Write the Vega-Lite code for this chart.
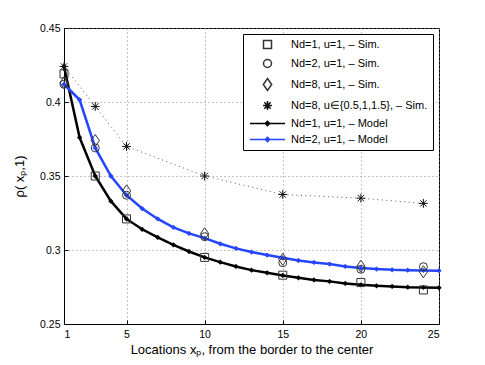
{
  "$schema": "https://vega.github.io/schema/vega-lite/v6.json",
  "autosize": "none",
  "width": 375,
  "height": 296,
  "padding": {"left": 64, "top": 28, "right": 46, "bottom": 41},
  "background": "white",
  "config": {
    "view": {"stroke": "black", "strokeWidth": 1},
    "font": "Liberation Sans",
    "axis": {
      "labelFont": "Liberation Sans",
      "labelFontSize": 10.5,
      "labelColor": "black",
      "titleFont": "Liberation Sans",
      "titleFontWeight": "normal",
      "titleColor": "black",
      "domainColor": "black",
      "tickColor": "black",
      "tickSize": -4,
      "grid": true,
      "gridColor": "#888",
      "gridDash": [1, 3],
      "gridWidth": 1
    }
  },
  "datasets": {
    "sim": [
      {"series": "Nd=1, u=1, – Sim.", "x": 1, "y": 0.419},
      {"series": "Nd=1, u=1, – Sim.", "x": 3, "y": 0.35},
      {"series": "Nd=1, u=1, – Sim.", "x": 5, "y": 0.321},
      {"series": "Nd=1, u=1, – Sim.", "x": 10, "y": 0.295},
      {"series": "Nd=1, u=1, – Sim.", "x": 15, "y": 0.283},
      {"series": "Nd=1, u=1, – Sim.", "x": 20, "y": 0.278},
      {"series": "Nd=1, u=1, – Sim.", "x": 24, "y": 0.273},
      {"series": "Nd=2, u=1, – Sim.", "x": 1, "y": 0.412},
      {"series": "Nd=2, u=1, – Sim.", "x": 3, "y": 0.369},
      {"series": "Nd=2, u=1, – Sim.", "x": 5, "y": 0.337},
      {"series": "Nd=2, u=1, – Sim.", "x": 10, "y": 0.309},
      {"series": "Nd=2, u=1, – Sim.", "x": 15, "y": 0.2914},
      {"series": "Nd=2, u=1, – Sim.", "x": 20, "y": 0.287},
      {"series": "Nd=2, u=1, – Sim.", "x": 24, "y": 0.2887},
      {"series": "Nd=8, u=1, – Sim.", "x": 1, "y": 0.413},
      {"series": "Nd=8, u=1, – Sim.", "x": 3, "y": 0.374},
      {"series": "Nd=8, u=1, – Sim.", "x": 5, "y": 0.34},
      {"series": "Nd=8, u=1, – Sim.", "x": 10, "y": 0.311},
      {"series": "Nd=8, u=1, – Sim.", "x": 15, "y": 0.2937},
      {"series": "Nd=8, u=1, – Sim.", "x": 20, "y": 0.289},
      {"series": "Nd=8, u=1, – Sim.", "x": 24, "y": 0.2853},
      {"series": "Nd=8, u∈{0.5,1,1.5}, – Sim.", "x": 1, "y": 0.424},
      {"series": "Nd=8, u∈{0.5,1,1.5}, – Sim.", "x": 3, "y": 0.397},
      {"series": "Nd=8, u∈{0.5,1,1.5}, – Sim.", "x": 5, "y": 0.37},
      {"series": "Nd=8, u∈{0.5,1,1.5}, – Sim.", "x": 10, "y": 0.35},
      {"series": "Nd=8, u∈{0.5,1,1.5}, – Sim.", "x": 15, "y": 0.3375},
      {"series": "Nd=8, u∈{0.5,1,1.5}, – Sim.", "x": 20, "y": 0.335},
      {"series": "Nd=8, u∈{0.5,1,1.5}, – Sim.", "x": 24, "y": 0.3315}
    ],
    "model": [
      {"series": "Nd=1, u=1, – Model", "x": 1, "y": 0.424},
      {"series": "Nd=1, u=1, – Model", "x": 2, "y": 0.376},
      {"series": "Nd=1, u=1, – Model", "x": 3, "y": 0.35},
      {"series": "Nd=1, u=1, – Model", "x": 4, "y": 0.333},
      {"series": "Nd=1, u=1, – Model", "x": 5, "y": 0.321},
      {"series": "Nd=1, u=1, – Model", "x": 6, "y": 0.314},
      {"series": "Nd=1, u=1, – Model", "x": 7, "y": 0.3085},
      {"series": "Nd=1, u=1, – Model", "x": 8, "y": 0.3035},
      {"series": "Nd=1, u=1, – Model", "x": 9, "y": 0.299},
      {"series": "Nd=1, u=1, – Model", "x": 10, "y": 0.295},
      {"series": "Nd=1, u=1, – Model", "x": 11, "y": 0.2918},
      {"series": "Nd=1, u=1, – Model", "x": 12, "y": 0.2889},
      {"series": "Nd=1, u=1, – Model", "x": 13, "y": 0.2864},
      {"series": "Nd=1, u=1, – Model", "x": 14, "y": 0.2846},
      {"series": "Nd=1, u=1, – Model", "x": 15, "y": 0.2828},
      {"series": "Nd=1, u=1, – Model", "x": 16, "y": 0.2812},
      {"series": "Nd=1, u=1, – Model", "x": 17, "y": 0.2798},
      {"series": "Nd=1, u=1, – Model", "x": 18, "y": 0.2788},
      {"series": "Nd=1, u=1, – Model", "x": 19, "y": 0.2774},
      {"series": "Nd=1, u=1, – Model", "x": 20, "y": 0.2765},
      {"series": "Nd=1, u=1, – Model", "x": 21, "y": 0.2758},
      {"series": "Nd=1, u=1, – Model", "x": 22, "y": 0.2754},
      {"series": "Nd=1, u=1, – Model", "x": 23, "y": 0.2749},
      {"series": "Nd=1, u=1, – Model", "x": 24, "y": 0.2747},
      {"series": "Nd=1, u=1, – Model", "x": 25, "y": 0.2745},
      {"series": "Nd=2, u=1, – Model", "x": 1, "y": 0.412},
      {"series": "Nd=2, u=1, – Model", "x": 2, "y": 0.4015},
      {"series": "Nd=2, u=1, – Model", "x": 3, "y": 0.369},
      {"series": "Nd=2, u=1, – Model", "x": 4, "y": 0.35},
      {"series": "Nd=2, u=1, – Model", "x": 5, "y": 0.337},
      {"series": "Nd=2, u=1, – Model", "x": 6, "y": 0.328},
      {"series": "Nd=2, u=1, – Model", "x": 7, "y": 0.321},
      {"series": "Nd=2, u=1, – Model", "x": 8, "y": 0.3153},
      {"series": "Nd=2, u=1, – Model", "x": 9, "y": 0.3112},
      {"series": "Nd=2, u=1, – Model", "x": 10, "y": 0.308},
      {"series": "Nd=2, u=1, – Model", "x": 11, "y": 0.3042},
      {"series": "Nd=2, u=1, – Model", "x": 12, "y": 0.3011},
      {"series": "Nd=2, u=1, – Model", "x": 13, "y": 0.2986},
      {"series": "Nd=2, u=1, – Model", "x": 14, "y": 0.2966},
      {"series": "Nd=2, u=1, – Model", "x": 15, "y": 0.2947},
      {"series": "Nd=2, u=1, – Model", "x": 16, "y": 0.2929},
      {"series": "Nd=2, u=1, – Model", "x": 17, "y": 0.2916},
      {"series": "Nd=2, u=1, – Model", "x": 18, "y": 0.2905},
      {"series": "Nd=2, u=1, – Model", "x": 19, "y": 0.2889},
      {"series": "Nd=2, u=1, – Model", "x": 20, "y": 0.2878},
      {"series": "Nd=2, u=1, – Model", "x": 21, "y": 0.2871},
      {"series": "Nd=2, u=1, – Model", "x": 22, "y": 0.2866},
      {"series": "Nd=2, u=1, – Model", "x": 23, "y": 0.2864},
      {"series": "Nd=2, u=1, – Model", "x": 24, "y": 0.2862},
      {"series": "Nd=2, u=1, – Model", "x": 25, "y": 0.286}
    ]
  },
  "encoding": {
    "x": {
      "field": "x", "type": "quantitative",
      "scale": {"domain": [1, 25], "nice": false, "zero": false},
      "axis": {"values": [1, 5, 10, 15, 20, 25], "title": "Locations xₚ, from the border to the center", "titleFontSize": 13, "labelPadding": 9, "titlePadding": 4}
    },
    "y": {
      "field": "y", "type": "quantitative",
      "scale": {"domain": [0.25, 0.45], "nice": false, "zero": false},
      "axis": {"values": [0.25, 0.3, 0.35, 0.4, 0.45], "format": "~g", "title": "ρ( xₚ,1)", "titleFontSize": 13, "labelPadding": 8, "titlePadding": 13}
    }
  },
  "layer": [
    {
      "data": {"name": "sim"},
      "transform": [{"filter": "datum.series === 'Nd=8, u∈{0.5,1,1.5}, – Sim.'"}],
      "mark": {"type": "line", "color": "#555", "strokeWidth": 1, "strokeDash": [1, 3.5]},
      "encoding": {}
    },
    {
      "data": {"name": "model"},
      "transform": [{"filter": "datum.series === 'Nd=1, u=1, – Model'"}],
      "mark": {"type": "line", "color": "black", "strokeWidth": 2.5, "point": {"filled": true, "shape": "diamond", "size": 28, "color": "black"}},
      "encoding": {}
    },
    {
      "data": {"name": "model"},
      "transform": [{"filter": "datum.series === 'Nd=2, u=1, – Model'"}],
      "mark": {"type": "line", "color": "#2545ff", "strokeWidth": 2.5, "point": {"filled": true, "shape": "diamond", "size": 28, "color": "#2545ff"}},
      "encoding": {}
    },
    {
      "data": {"name": "sim"},
      "mark": {"type": "point", "filled": false, "size": 64, "strokeWidth": 1, "opacity": 1},
      "encoding": {
        "shape": {
          "field": "series", "type": "nominal",
          "scale": {
            "domain": ["Nd=1, u=1, – Sim.", "Nd=2, u=1, – Sim.", "Nd=8, u=1, – Sim.", "Nd=8, u∈{0.5,1,1.5}, – Sim.", "Nd=1, u=1, – Model", "Nd=2, u=1, – Model"],
            "range": ["square", "circle", "M0,-1.5L1.05,0L0,1.5L-1.05,0Z", "M-1.1,0L1.1,0M0,-1.1L0,1.1M-0.8,-0.8L0.8,0.8M-0.8,0.8L0.8,-0.8", "M-4.4,0L4.4,0M0,-0.55L0.55,0L0,0.55L-0.55,0Z", "M-4.4,0L4.4,0M0,-0.55L0.55,0L0,0.55L-0.55,0Z"]
          },
          "legend": {
            "title": null,
            "orient": "top-right",
            "offset": 6,
            "padding": 5,
            "fillColor": "white",
            "strokeColor": "black",
            "labelFont": "Liberation Sans",
            "labelFontSize": 11,
            "labelColor": "black",
            "labelLimit": 300,
            "symbolSize": 64,
            "symbolStrokeWidth": 1.5,
            "symbolOffset": 14,
            "labelOffset": 18,
            "rowPadding": 4
          }
        },
        "color": {
          "field": "series", "type": "nominal",
          "scale": {
            "domain": ["Nd=1, u=1, – Sim.", "Nd=2, u=1, – Sim.", "Nd=8, u=1, – Sim.", "Nd=8, u∈{0.5,1,1.5}, – Sim.", "Nd=1, u=1, – Model", "Nd=2, u=1, – Model"],
            "range": ["#333", "#333", "#333", "#111", "black", "#2545ff"]
          },
          "legend": {
            "title": null,
            "orient": "top-right",
            "offset": 6,
            "padding": 5,
            "fillColor": "white",
            "strokeColor": "black",
            "labelFont": "Liberation Sans",
            "labelFontSize": 11,
            "labelColor": "black",
            "labelLimit": 300,
            "symbolSize": 64,
            "symbolStrokeWidth": 1.5,
            "symbolOffset": 14,
            "labelOffset": 18,
            "rowPadding": 4
          }
        }
      }
    }
  ]
}
